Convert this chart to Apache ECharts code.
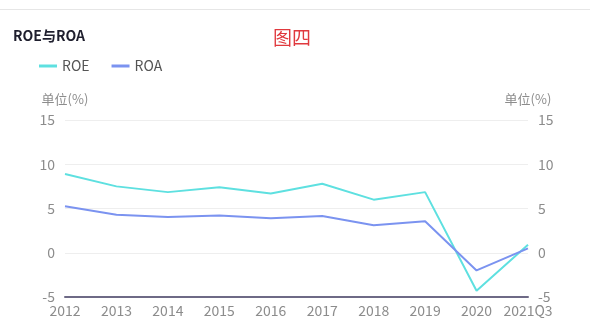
<!DOCTYPE html>
<html>
<head>
<meta charset="utf-8">
<script src="https://cdn.jsdelivr.net/npm/echarts@6/dist/echarts.min.js"></script>
<style>
html,body{margin:0;padding:0;background:#fff;}
#c{width:590px;height:335px;}
</style>
</head>
<body>
<div id="c"></div>
<script>
const categories = ['2012','2013','2014','2015','2016','2017','2018','2019','2020','2021Q3'];
const roe = [8.9, 7.5, 6.85, 7.4, 6.7, 7.8, 6.0, 6.85, -4.3, 0.9];
const roa = [5.25, 4.3, 4.05, 4.2, 3.9, 4.15, 3.1, 3.55, -2.0, 0.5];
const yMin = -5, yMax = 15, yStep = 5;

const font = '"Noto Sans CJK SC", "Noto Sans", sans-serif';
const chart = echarts.init(document.getElementById('c'));
const yAxisBase = {
  type: 'value', min: yMin, max: yMax, interval: yStep,
  name: '单位(%)', nameGap: 14,
  nameTextStyle: {color: '#8c8c8c', fontSize: 13, fontFamily: font},
  axisLine: {show: false}, axisTick: {show: false},
  axisLabel: {color: '#8c8c8c', fontSize: 14, fontFamily: font, margin: 10},
  splitLine: {lineStyle: {color: '#eeeeee'}}
};
chart.setOption({
  animation: false,
  textStyle: {fontFamily: font},
  title: [
    {text: 'ROE与ROA', left: 8, top: 24, textStyle: {fontSize: 14, fontWeight: 'bold', color: '#1f1f2e', fontFamily: font}},
    {text: '图四', left: 268, top: 23, textStyle: {fontSize: 19, fontWeight: 'normal', color: '#e0393e', fontFamily: font}}
  ],
  graphic: [{type: 'line', shape: {x1: 0, y1: 9.5, x2: 590, y2: 9.5}, style: {stroke: '#e6e6e6', lineWidth: 1}}],
  legend: {
    left: 34, top: 54, itemWidth: 18, itemHeight: 3, itemGap: 22,
    icon: 'rect',
    textStyle: {color: '#555', fontSize: 14, fontFamily: font},
    data: ['ROE', 'ROA']
  },
  grid: {left: 65, right: 62, top: 120, bottom: 38},
  xAxis: {
    type: 'category', data: categories, boundaryGap: false,
    axisLine: {onZero: false, lineStyle: {color: '#6e6a86', width: 2}},
    axisTick: {show: false},
    axisLabel: {color: '#8c8c8c', fontSize: 14, fontFamily: font, margin: 7, interval: 0}
  },
  yAxis: [
    Object.assign({}, yAxisBase, {position: 'left'}),
    Object.assign({}, yAxisBase, {position: 'right', splitLine: {show: false}})
  ],
  series: [
    {name: 'ROE', type: 'line', data: roe, symbol: 'none', yAxisIndex: 0,
     itemStyle: {color: '#5ee0e0'}, lineStyle: {color: '#5ee0e0', width: 2}},
    {name: 'ROA', type: 'line', data: roa, symbol: 'none', yAxisIndex: 0,
     itemStyle: {color: '#7b93f0'}, lineStyle: {color: '#7b93f0', width: 2}}
  ]
});
</script>
</body>
</html>
